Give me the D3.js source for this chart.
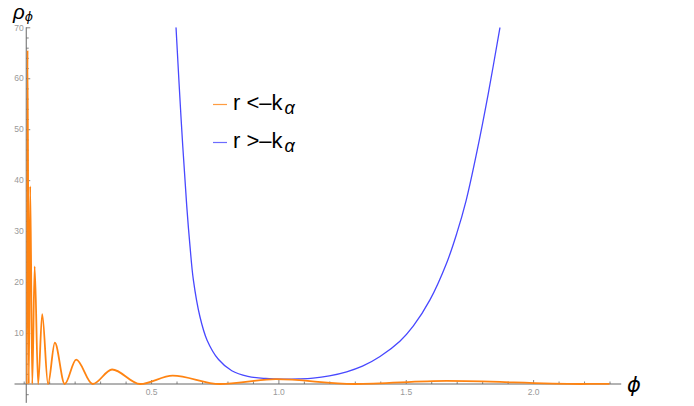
<!DOCTYPE html>
<html>
<head>
<meta charset="utf-8">
<script src="https://cdn.jsdelivr.net/npm/d3@7"></script>
<style>
  body { margin: 0; background: #fff; }
  svg { display: block; }
</style>
</head>
<body>
<div id="chart"></div>
<script>
const WIDTH = 694;
const HEIGHT = 406;

// r < -k_alpha : oscillating curve, zeros and peaks
const phiOrange = [0.01185, 0.01517, 0.0200, 0.0256, 0.0336, 0.0430, 0.0567, 0.0726,
  0.0955, 0.1223, 0.161, 0.206, 0.271, 0.347, 0.457, 0.585, 0.770, 0.99,
  1.297, 1.661, 2.186, 2.30];
const rhoOrange = [0, 65.5, 0, 38.8, 0, 23.1, 0, 13.7,
  0, 8.1, 0, 4.8, 0, 2.85, 0, 1.65, 0, 0.95,
  0, 0.6, 0, 0.04];

// r > -k_alpha : U shaped curve
const phiBlue = [0.598, 0.618, 0.640, 0.653, 0.666, 0.692, 0.720, 0.765, 0.817, 0.880,
  0.95, 1.02, 1.08, 1.136, 1.20, 1.268, 1.33, 1.399, 1.477, 1.530, 1.595,
  1.661, 1.700, 1.737, 1.779, 1.824, 1.870];
const rhoBlue = [70, 52, 35, 27, 20.5, 13.2, 8.6, 4.8, 2.6, 1.5,
  1.08, 0.95, 1.0, 1.15, 1.6, 2.4, 3.5, 5.4, 8.4, 11.4, 16.5,
  23.8, 29.5, 36.0, 45.5, 57.0, 70];

const xMajorTicks = [0.5, 1.0, 1.5, 2.0];
const xMinorTicks = [0, 0.1, 0.2, 0.3, 0.4, 0.6, 0.7, 0.8, 0.9, 1.1, 1.2, 1.3, 1.4,
  1.6, 1.7, 1.8, 1.9, 2.1, 2.2, 2.3];
const yMajorTicks = [10, 20, 30, 40, 50, 60, 70];
const yMinorTicks = [-2, 2, 4, 6, 8, 12, 14, 16, 18, 22, 24, 26, 28, 32, 34, 36, 38,
  42, 44, 46, 48, 52, 54, 56, 58, 62, 64, 66, 68];

const legendLabels = ['r <\u2013k', 'r >\u2013k'];
const legendColors = ['#ff8412', '#4848ff'];

const svg = d3.select('#chart').append('svg')
  .attr('width', WIDTH)
  .attr('height', HEIGHT);

const x = d3.scaleLinear().domain([0, 2]).range([23.7, 533.1]);
const y = d3.scaleLinear().domain([0, 70]).range([384, 27.3]);

const AXIS_COLOR = '#666';
const LABEL_COLOR = '#999';

// axes
const axes = svg.append('g').attr('id', 'axes');

axes.append('line')
  .attr('x1', x(-0.036)).attr('x2', x(2.346))
  .attr('y1', y(0)).attr('y2', y(0))
  .attr('stroke', AXIS_COLOR).attr('stroke-width', 1);

axes.append('line')
  .attr('x1', x(0.01)).attr('x2', x(0.01))
  .attr('y1', y(70)).attr('y2', y(-3.7))
  .attr('stroke', AXIS_COLOR).attr('stroke-width', 1);

function styleAxis(g) {
  g.select('.domain').remove();
  g.selectAll('.tick line').attr('stroke', AXIS_COLOR).attr('stroke-width', 0.8);
  g.selectAll('.tick text')
    .attr('fill', LABEL_COLOR)
    .attr('font-family', 'Liberation Sans, Arial, sans-serif')
    .attr('font-size', 8.5);
}

axes.append('g')
  .attr('transform', `translate(0, ${y(0)})`)
  .call(d3.axisBottom(x).tickValues(xMinorTicks).tickSizeInner(-2.5).tickSizeOuter(0).tickFormat(''))
  .call(styleAxis);

axes.append('g')
  .attr('transform', `translate(0, ${y(0)})`)
  .call(d3.axisBottom(x).tickValues(xMajorTicks).tickSizeInner(-4).tickSizeOuter(0)
    .tickPadding(5).tickFormat(d3.format('.1f')))
  .call(styleAxis);

axes.append('g')
  .attr('transform', `translate(${x(0.01)}, 0)`)
  .call(d3.axisLeft(y).tickValues(yMinorTicks).tickSizeInner(-2.5).tickSizeOuter(0).tickFormat(''))
  .call(styleAxis);

axes.append('g')
  .attr('transform', `translate(${x(0.01)}, 0)`)
  .call(d3.axisLeft(y).tickValues(yMajorTicks).tickSizeInner(-4).tickSizeOuter(0)
    .tickPadding(2.5))
  .call(styleAxis);

// axis titles
const yTitle = svg.append('text')
  .attr('x', 13)
  .attr('y', 18.5)
  .attr('font-family', 'Liberation Sans, Arial, sans-serif')
  .attr('font-style', 'italic')
  .attr('fill', '#000');
yTitle.append('tspan').attr('font-size', 20.5).text('\u03c1');
yTitle.append('tspan')
  .attr('font-family', 'DejaVu Sans, sans-serif')
  .attr('font-size', 12.5)
  .attr('dy', 2)
  .text('\u03d5');

svg.append('text')
  .attr('x', 627)
  .attr('y', 392)
  .attr('font-family', 'DejaVu Sans, sans-serif')
  .attr('font-style', 'italic')
  .attr('font-size', 21)
  .attr('fill', '#000')
  .text('\u03d5');

// curves
svg.append('clipPath').attr('id', 'plot-clip')
  .append('rect')
  .attr('x', x(0.01))
  .attr('y', y(70))
  .attr('width', x(2.4) - x(0.01))
  .attr('height', y(-3.7) - y(70));

const orangeLine = d3.line()
  .x(d => x(d[0]))
  .y(d => y(d[1]))
  .curve(d3.curveMonotoneX);

const blueLine = d3.line()
  .x(d => x(d[0]))
  .y(d => y(d[1]))
  .curve(d3.curveCatmullRom.alpha(0.5));

const curves = svg.append('g').attr('clip-path', 'url(#plot-clip)');

curves.append('path')
  .attr('d', blueLine(phiBlue.map((p, i) => [p, rhoBlue[i]])))
  .attr('fill', 'none')
  .attr('stroke', legendColors[1])
  .attr('stroke-width', 1.3);

curves.append('path')
  .attr('d', orangeLine(phiOrange.map((p, i) => [p, rhoOrange[i]])))
  .attr('fill', 'none')
  .attr('stroke', legendColors[0])
  .attr('stroke-width', 1.8)
  .attr('stroke-linejoin', 'round');

// legend
const legend = svg.append('g').attr('id', 'legend');
legendLabels.forEach((label, i) => {
  const ly = 104.5 + i * 38;
  legend.append('line')
    .attr('x1', 213).attr('x2', 227)
    .attr('y1', ly).attr('y2', ly)
    .attr('stroke', legendColors[i])
    .attr('stroke-width', 1.2)
    .attr('opacity', 0.8);
  const t = legend.append('text')
    .attr('x', 233)
    .attr('y', ly + 5.5)
    .attr('font-family', 'Liberation Sans, Arial, sans-serif')
    .attr('font-size', 22)
    .attr('fill', '#000');
  t.append('tspan').text(label);
  t.append('tspan')
    .attr('dx', 2)
    .attr('dy', 4)
    .attr('font-size', 18)
    .attr('font-style', 'italic')
    .text('\u03b1');
});
</script>
</body>
</html>
